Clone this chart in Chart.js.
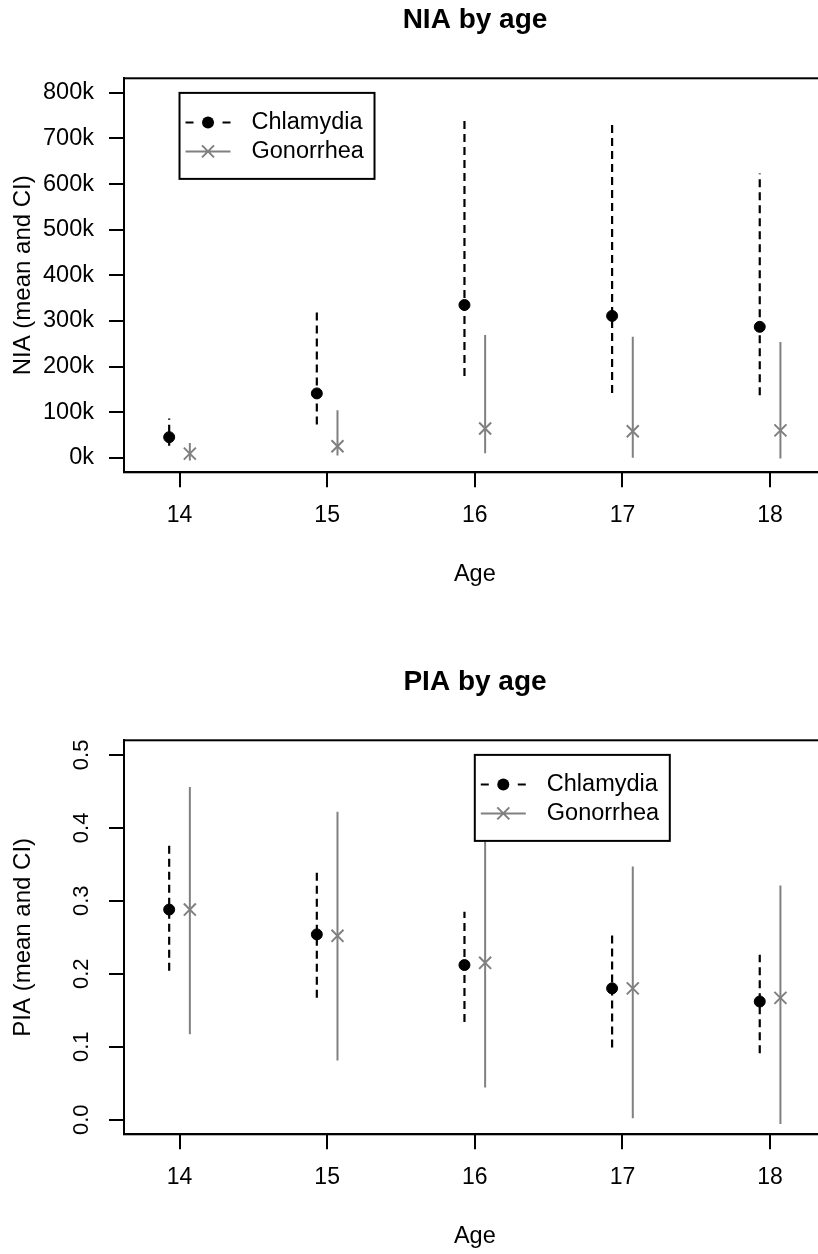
<!DOCTYPE html>
<html>
<head>
<meta charset="utf-8">
<script src="https://cdn.jsdelivr.net/npm/chart.js@4.4.0/dist/chart.umd.min.js"></script>
<style>
  html, body { margin: 0; padding: 0; background: #fff; }
  body { width: 818px; height: 1254px; overflow: hidden; position: relative; }
  canvas { position: absolute; left: 0; }
  #nia { top: 0; }
  #pia { top: 662px; }
</style>
</head>
<body>
<canvas id="nia" width="950" height="592"></canvas>
<canvas id="pia" width="950" height="592"></canvas>
<script>
const ages = [14, 15, 16, 17, 18];
const seriesNames = ['Chlamydia', 'Gonorrhea'];

// NIA: mean and CI
const niaChlMean = [45000, 141000, 335000, 311000, 287000];
const niaChlLo   = [26000, 73000, 179000, 142000, 137000];
const niaChlHi   = [86000, 327000, 744000, 739000, 623000];
const niaGonMean = [9000, 25000, 64000, 58000, 60000];
const niaGonLo   = [-6000, 5000, 10000, 0, -2000];
const niaGonHi   = [32000, 104000, 269000, 265000, 254000];
const niaTicks   = [0, 100000, 200000, 300000, 400000, 500000, 600000, 700000, 800000];

// PIA: mean and CI
const piaChlMean = [0.288, 0.254, 0.212, 0.180, 0.162];
const piaChlLo   = [0.204, 0.167, 0.134, 0.099, 0.091];
const piaChlHi   = [0.378, 0.343, 0.285, 0.255, 0.226];
const piaGonMean = [0.288, 0.252, 0.215, 0.180, 0.167];
const piaGonLo   = [0.117, 0.081, 0.044, 0.002, -0.006];
const piaGonHi   = [0.456, 0.422, 0.385, 0.347, 0.321];
const piaTicks   = [0, 0.1, 0.2, 0.3, 0.4, 0.5];

const ageRange = [13.624, 18.376];
const niaRange = [-32000, 832000];
const piaRange = [-0.02, 0.52];
const dodge = 0.07;

const FONT = "'Liberation Sans', Arial, Helvetica, sans-serif";
const GREY = '#808080';
const CANVAS_W = 950, CANVAS_H = 592;
const AREA_RIGHT = 825.6, AREA_BOTTOM = 472.3;

// vertical CI segments, broken by null points
function ciPoints(lo, hi, shift) {
  const pts = [];
  ages.forEach((a, i) => {
    pts.push({x: a + shift, y: lo[i]}, {x: a + shift, y: hi[i]}, {x: a + shift, y: null});
  });
  return pts;
}
function meanPoints(m, shift) {
  return ages.map((a, i) => ({x: a + shift, y: m[i]}));
}

const boxPlugin = {
  id: 'rbox',
  afterDraw(chart) {
    const {ctx, chartArea: a} = chart;
    ctx.save();
    ctx.strokeStyle = '#000';
    ctx.lineWidth = 2;
    ctx.strokeRect(a.left, a.top, a.right - a.left, a.bottom - a.top);
    ctx.restore();
  }
};

const legendPlugin = {
  id: 'rlegend',
  afterDraw(chart, args, opts) {
    const {ctx, scales} = chart;
    const left = scales.x.getPixelForValue(opts.x);
    const top = scales.y.getPixelForValue(opts.y);
    const w = 195, h = 86;
    const rows = [top + 29.5, top + 58.5];
    ctx.save();
    ctx.fillStyle = '#fff';
    ctx.fillRect(left, top, w, h);
    ctx.lineWidth = 2;
    ctx.strokeStyle = '#000';
    ctx.strokeRect(left, top, w, h);

    // Chlamydia: dashed line + dot
    ctx.beginPath();
    ctx.setLineDash([8, 29]);
    ctx.moveTo(left + 6, rows[0]);
    ctx.lineTo(left + 51, rows[0]);
    ctx.stroke();
    ctx.setLineDash([]);
    ctx.beginPath();
    ctx.fillStyle = '#000';
    ctx.arc(left + 28.5, rows[0], 6, 0, Math.PI * 2);
    ctx.fill();

    // Gonorrhea: grey line + x
    ctx.strokeStyle = GREY;
    ctx.beginPath();
    ctx.moveTo(left + 6, rows[1]);
    ctx.lineTo(left + 51, rows[1]);
    const d = 6;
    ctx.moveTo(left + 28.5 - d, rows[1] - d);
    ctx.lineTo(left + 28.5 + d, rows[1] + d);
    ctx.moveTo(left + 28.5 - d, rows[1] + d);
    ctx.lineTo(left + 28.5 + d, rows[1] - d);
    ctx.stroke();

    ctx.fillStyle = '#000';
    ctx.font = '23.5px ' + FONT;
    ctx.textAlign = 'left';
    ctx.textBaseline = 'middle';
    ctx.fillText(seriesNames[0], left + 72, rows[0]);
    ctx.fillText(seriesNames[1], left + 72, rows[1]);
    ctx.restore();
  }
};

function makeChart(id, cfg) {
  const axisLine = { drawOnChartArea: false, drawTicks: true, tickLength: 15, color: '#000', lineWidth: 2 };
  const border = { display: true, color: '#000', width: 2 };
  return new Chart(document.getElementById(id), {
    type: 'line',
    data: {
      datasets: [
        {
          label: seriesNames[0], order: 1,
          data: meanPoints(cfg.chlMean, -dodge), showLine: false,
          pointStyle: 'circle', pointRadius: 5.5, pointBorderWidth: 1,
          pointBackgroundColor: '#000', pointBorderColor: '#000'
        },
        {
          label: seriesNames[1], order: 2,
          data: meanPoints(cfg.gonMean, dodge), showLine: false,
          pointStyle: 'crossRot', pointRadius: 8.5, pointBorderWidth: 2,
          pointBorderColor: GREY, pointBackgroundColor: GREY
        },
        {
          label: seriesNames[0] + ' CI', order: 3,
          data: ciPoints(cfg.chlLo, cfg.chlHi, -dodge),
          borderColor: '#000', borderWidth: 2.2, borderDash: [8, 5], pointRadius: 0
        },
        {
          label: seriesNames[1] + ' CI', order: 4,
          data: ciPoints(cfg.gonLo, cfg.gonHi, dodge),
          borderColor: GREY, borderWidth: 2, pointRadius: 0
        }
      ]
    },
    options: {
      responsive: false,
      animation: false,
      devicePixelRatio: 1,
      events: [],
      layout: { padding: 0 },
      plugins: {
        legend: { display: false },
        tooltip: { enabled: false },
        title: {
          display: true, text: cfg.title, color: '#000',
          font: { family: FONT, size: 28, weight: 'bold' },
          padding: { top: 3.2, bottom: 41.5 }
        },
        rlegend: cfg.legendAt
      },
      scales: {
        x: {
          type: 'linear', min: ageRange[0], max: ageRange[1],
          afterBuildTicks: s => { s.ticks = ages.map(v => ({value: v})); },
          afterFit: s => { s.height = CANVAS_H - AREA_BOTTOM; },
          ticks: { autoSkip: false, color: '#000', font: { family: FONT, size: 23 }, padding: 15, callback: v => String(v) },
          grid: axisLine,
          border: border,
          title: { display: true, text: 'Age', color: '#000', font: { family: FONT, size: 23.5 }, padding: { top: 0, bottom: 3 } }
        },
        y: {
          type: 'linear', min: cfg.range[0], max: cfg.range[1],
          afterBuildTicks: s => { s.ticks = cfg.ticks.map(v => ({value: v})); },
          afterFit: s => { s.width = 124; },
          ticks: Object.assign({ autoSkip: false, color: '#000', callback: cfg.tickLabel }, cfg.tickOpts),
          grid: axisLine,
          border: border,
          title: { display: true, text: cfg.yTitle, color: '#000', font: { family: FONT, size: 24 }, padding: { top: 8.5, bottom: 0 } }
        },
        pad: {
          type: 'linear', position: 'right', display: true,
          ticks: { display: false }, grid: { display: false }, border: { display: false },
          afterFit: s => { s.width = CANVAS_W - AREA_RIGHT; }
        }
      }
    },
    plugins: [boxPlugin, legendPlugin]
  });
}

makeChart('nia', {
  title: 'NIA by age', yTitle: 'NIA (mean and CI)',
  chlMean: niaChlMean, chlLo: niaChlLo, chlHi: niaChlHi,
  gonMean: niaGonMean, gonLo: niaGonLo, gonHi: niaGonHi,
  range: niaRange, ticks: niaTicks,
  tickLabel: v => (v / 1000) + 'k',
  tickOpts: { padding: 15, font: { family: FONT, size: 23.5 } },
  legendAt: { x: 14, y: 800000 }
});

makeChart('pia', {
  title: 'PIA by age', yTitle: 'PIA (mean and CI)',
  chlMean: piaChlMean, chlLo: piaChlLo, chlHi: piaChlHi,
  gonMean: piaGonMean, gonLo: piaGonLo, gonHi: piaGonHi,
  range: piaRange, ticks: piaTicks,
  tickLabel: v => v.toFixed(1),
  tickOpts: { padding: 12, minRotation: 90, maxRotation: 90, crossAlign: 'center', font: { family: FONT, size: 22 } },
  legendAt: { x: 16, y: 0.5 }
});
</script>
</body>
</html>
